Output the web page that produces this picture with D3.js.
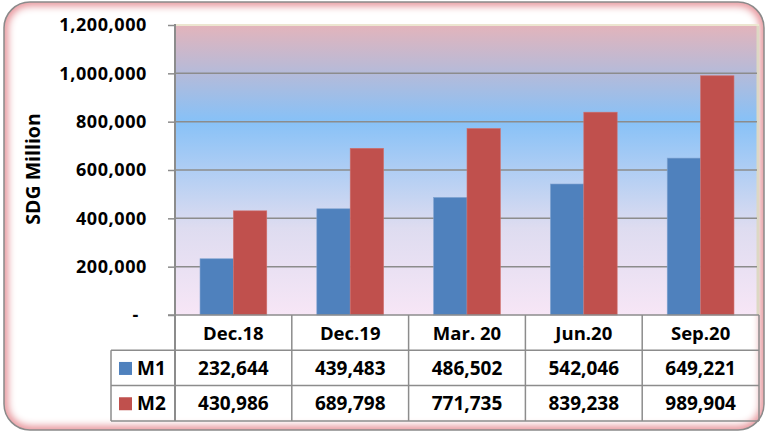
<!DOCTYPE html>
<html>
<head>
<meta charset="utf-8">
<script src="https://cdn.jsdelivr.net/npm/d3@7"></script>
<style>
  html, body { margin: 0; padding: 0; background: #fff; }
  svg { display: block; font-family: "Open Sans", Lato, sans-serif; font-weight: bold; }
</style>
</head>
<body>
<svg id="chart" width="768" height="433"></svg>
<script>
// chart data
const periods = ["Dec.18", "Dec.19", "Mar. 20", "Jun.20", "Sep.20"];
const seriesNames = ["M1", "M2"];
const m1 = [232644, 439483, 486502, 542046, 649221];
const m2 = [430986, 689798, 771735, 839238, 989904];
const seriesColors = ["#4f81bd", "#c0504d"];
const yTicks = [0, 200000, 400000, 600000, 800000, 1000000, 1200000];

const svg = d3.select("#chart");
const defs = svg.append("defs");

// pink inner glow for the frame
const glow = defs.append("filter").attr("id", "glow")
  .attr("x", "-5%").attr("y", "-5%").attr("width", "110%").attr("height", "110%");
glow.append("feGaussianBlur").attr("stdDeviation", 3.5);

// plot background gradient
const bg = defs.append("linearGradient").attr("id", "bg")
  .attr("x1", 0).attr("y1", 0).attr("x2", 0).attr("y2", 1);
bg.append("stop").attr("offset", "0%").attr("stop-color", "#e3b4bb");
bg.append("stop").attr("offset", "33%").attr("stop-color", "#87c1f7");
bg.append("stop").attr("offset", "70%").attr("stop-color", "#dedcf0");
bg.append("stop").attr("offset", "100%").attr("stop-color", "#f7e6f6");

// frame
const clip = defs.append("clipPath").attr("id", "frameClip");
clip.append("rect").attr("x", 4).attr("y", 2).attr("width", 760).attr("height", 428).attr("rx", 26);
svg.append("g").attr("clip-path", "url(#frameClip)")
  .append("rect")
  .attr("x", 4).attr("y", 2).attr("width", 760).attr("height", 428).attr("rx", 26)
  .attr("fill", "#fff")
  .attr("stroke", "#e9959c").attr("stroke-width", 10)
  .attr("filter", "url(#glow)");
svg.append("rect")
  .attr("x", 4).attr("y", 2).attr("width", 760).attr("height", 428).attr("rx", 26)
  .attr("fill", "none").attr("stroke", "#8a8a8a").attr("stroke-width", 1.5);

const plotLeft = 175, plotRight = 759, plotTop = 25, zeroY = 315;
const rowH = 35.3;

const x = d3.scaleBand().domain(periods).range([plotLeft, plotRight]);
const xs = d3.scaleBand().domain(seriesNames).range([0, x.bandwidth()]).paddingOuter(0.75).paddingInner(0);
const y = d3.scaleLinear().domain([0, 1200000]).range([zeroY, plotTop]);

// background
svg.append("rect")
  .attr("x", plotLeft).attr("y", plotTop).attr("width", plotRight - plotLeft).attr("height", zeroY - plotTop)
  .attr("fill", "url(#bg)");
svg.append("line")
  .attr("x1", plotRight - 1).attr("x2", plotRight - 1).attr("y1", plotTop).attr("y2", zeroY)
  .attr("stroke", "#ddd8c4").attr("stroke-width", 3);
svg.append("line")
  .attr("x1", plotLeft).attr("x2", plotRight).attr("y1", plotTop).attr("y2", plotTop)
  .attr("stroke", "#ece6d0").attr("stroke-width", 2);

// gridlines
svg.append("g").selectAll("line")
  .data(yTicks.filter(d => d > 0 && d < 1200000))
  .join("line")
  .attr("x1", plotLeft).attr("x2", plotRight - 2)
  .attr("y1", d => y(d)).attr("y2", d => y(d))
  .attr("stroke", "#8c8c8c").attr("stroke-width", 1.5);

// bars
const groups = svg.append("g").selectAll("g")
  .data(periods)
  .join("g")
  .attr("transform", d => `translate(${x(d)},0)`);
groups.selectAll("rect")
  .data((d, i) => [{ s: "M1", v: m1[i], c: seriesColors[0] }, { s: "M2", v: m2[i], c: seriesColors[1] }])
  .join("rect")
  .attr("x", d => xs(d.s))
  .attr("y", d => y(d.v))
  .attr("width", xs.bandwidth())
  .attr("height", d => zeroY - y(d.v))
  .attr("fill", d => d.c)
  .attr("stroke", d => d.s === "M1" ? "#7fa2d0" : "#d0706d")
  .attr("stroke-width", 0.6);

// y axis
const yAxis = svg.append("g")
  .attr("transform", `translate(${plotLeft},0)`)
  .call(d3.axisLeft(y).tickValues(yTicks).tickSize(7).tickPadding(21)
    .tickFormat(d => d === 0 ? "-" : d3.format(",")(d)));
yAxis.select(".domain").remove();
yAxis.selectAll(".tick line").attr("stroke", "#8c8c8c").attr("stroke-width", 1.5);
yAxis.selectAll(".tick text")
  .attr("fill", "#000").style("font-size", "18px")
  .style("font-family", "\"Open Sans\", Lato, sans-serif").style("font-weight", "bold")
  .style("letter-spacing", "0.6px");
yAxis.selectAll(".tick").filter(d => d === 0).select("text").attr("dx", -8);

svg.append("line")
  .attr("x1", plotLeft).attr("x2", plotLeft).attr("y1", plotTop - 1).attr("y2", zeroY + rowH * 3)
  .attr("stroke", "#8c8c8c").attr("stroke-width", 2);

svg.append("text")
  .attr("transform", `translate(40,169) rotate(-90)`)
  .attr("text-anchor", "middle")
  .style("font-size", "19.5px")
  .text("SDG Million");

// data table
const tableBottom = zeroY + rowH * 3;
const tbl = svg.append("g");
[0, 1, 2, 3].forEach(r => {
  tbl.append("line")
    .attr("x1", r === 0 ? plotLeft - 7 : 111).attr("x2", plotRight)
    .attr("y1", zeroY + r * rowH).attr("y2", zeroY + r * rowH)
    .attr("stroke", "#8c8c8c").attr("stroke-width", 1.5);
});
periods.forEach(p => {
  tbl.append("line")
    .attr("x1", x(p) + x.bandwidth()).attr("x2", x(p) + x.bandwidth())
    .attr("y1", zeroY).attr("y2", tableBottom)
    .attr("stroke", "#8c8c8c").attr("stroke-width", 1.5);
});
tbl.append("line")
  .attr("x1", 111).attr("x2", 111).attr("y1", zeroY + rowH).attr("y2", tableBottom)
  .attr("stroke", "#8c8c8c").attr("stroke-width", 1.5);

// header row
tbl.selectAll("text.hdr")
  .data(periods)
  .join("text")
  .attr("class", "hdr")
  .attr("x", d => x(d) + x.bandwidth() / 2)
  .attr("y", zeroY + rowH / 2 + 7)
  .attr("text-anchor", "middle")
  .style("font-size", "18.5px")
  .text(d => d);

// series rows
[m1, m2].forEach((vals, r) => {
  const cy = zeroY + rowH * (r + 1) + rowH / 2;
  tbl.append("rect")
    .attr("x", 119).attr("y", cy - 6).attr("width", 13).attr("height", 13)
    .attr("fill", seriesColors[r]);
  tbl.append("text")
    .attr("x", 137).attr("y", cy + 7)
    .style("font-size", "19px")
    .text(seriesNames[r]);
  tbl.selectAll(null)
    .data(vals)
    .join("text")
    .attr("x", (d, i) => x(periods[i]) + x.bandwidth() / 2)
    .attr("y", cy + 7)
    .attr("text-anchor", "middle")
    .style("font-size", "19px")
    .text(d => d3.format(",")(d));
});
</script>
</body>
</html>
